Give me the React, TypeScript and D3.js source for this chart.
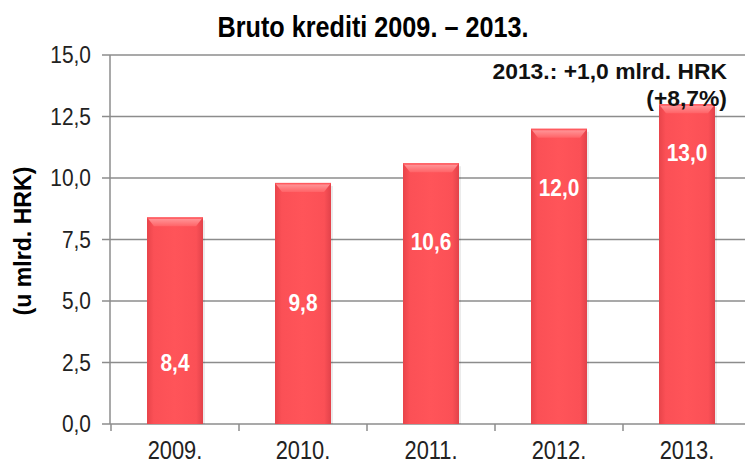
import React from "react";
import * as d3 from "d3";

const categories = ["2009.", "2010.", "2011.", "2012.", "2013."];
const values = [8.4, 9.8, 10.6, 12.0, 13.0];
const valueLabels = ["8,4", "9,8", "10,6", "12,0", "13,0"];
const labelAnchors = [2.5, 4.9, 7.4, 9.6, 11.0];
const yTicks = [0, 2.5, 5, 7.5, 10, 12.5, 15];
const yTickLabels = ["0,0", "2,5", "5,0", "7,5", "10,0", "12,5", "15,0"];
const title = "Bruto krediti 2009. – 2013.";
const yTitle = "(u mlrd. HRK)";
const note1 = "2013.: +1,0 mlrd. HRK";
const note2 = "(+8,7%)";

const W = 745;
const H = 463;
const FONT = "'Liberation Sans', Arial, sans-serif";

function T(props: {
  x: number;
  y: number;
  size: number;
  bold?: boolean;
  anchor?: string;
  fill?: string;
  sx?: number;
  sy?: number;
  dy?: string;
  children: React.ReactNode;
}) {
  const { x, y, size, bold, anchor = "start", fill = "#222", sx = 0.95, sy = 1.1, dy } = props;
  return (
    <text
      transform={`translate(${x},${y}) scale(${sx},${sy})`}
      fontSize={size}
      fontWeight={bold ? "bold" : "normal"}
      textAnchor={anchor}
      fill={fill}
      dy={dy}
    >
      {props.children}
    </text>
  );
}

export default function App() {
  const x = d3
    .scaleBand<string>()
    .domain(categories)
    .range([111, 751])
    .paddingInner(0.5625)
    .paddingOuter(0.28125);
  const y = d3.scaleLinear().domain([0, 15]).range([424, 55]);
  const step = x.step();
  const bw = x.bandwidth();
  const grid = "#8c8c8c";

  return (
    <svg
      width={W}
      height={H}
      style={{ position: "absolute", left: 0, top: 0, background: "#fff" }}
      fontFamily={FONT}
    >
      <defs>
        <linearGradient id="barG" x1="0" x2="1" y1="0" y2="0">
          <stop offset="0" stopColor="#e8444a" />
          <stop offset="0.12" stopColor="#fb5056" />
          <stop offset="0.5" stopColor="#ff5459" />
          <stop offset="0.88" stopColor="#fb5056" />
          <stop offset="1" stopColor="#e2424a" />
        </linearGradient>
        <linearGradient id="topG" x1="0" x2="0" y1="0" y2="1">
          <stop offset="0" stopColor="#ff9ea0" />
          <stop offset="1" stopColor="#ff6367" />
        </linearGradient>
      </defs>
      <rect x={0} y={0} width={W} height={H} fill="#fff" />

      {/* gridlines and y ticks */}
      {yTicks.map((t) => (
        <line
          key={"g" + t}
          x1={102}
          x2={W}
          y1={y(t)}
          y2={y(t)}
          stroke={grid}
          strokeWidth={1.5}
        />
      ))}
      <line x1={110} x2={110} y1={y(15)} y2={y(0)} stroke={grid} strokeWidth={1.5} />
      {d3.range(categories.length + 1).map((i) => (
        <line
          key={"xt" + i}
          x1={111 + i * step}
          x2={111 + i * step}
          y1={y(0)}
          y2={y(0) + 7}
          stroke={grid}
          strokeWidth={1.5}
        />
      ))}
      {yTicks.map((t, i) => (
        <T key={"yl" + t} x={91} y={y(t) + 8} size={22} anchor="end">
          {yTickLabels[i]}
        </T>
      ))}

      {/* bars */}
      {categories.map((c, i) => {
        const x0 = x(c)!;
        const top = y(values[i]);
        const bot = y(0);
        const bev = 9;
        return (
          <g key={"b" + c}>
            <rect x={x0 + 2} y={top + 3} width={bw} height={bot - top - 3} fill="#000" opacity={0.08} />
            <rect x={x0} y={top} width={bw} height={bot - top} fill="url(#barG)" />
            <path
              d={`M${x0},${top} L${x0 + bw},${top} L${x0 + bw - 7},${top + bev} L${x0 + 7},${top + bev} Z`}
              fill="url(#topG)"
            />
            <rect x={x0} y={top} width={bw} height={1.5} fill="#ff4a50" opacity={0.8} />
          </g>
        );
      })}

      {/* value labels */}
      {categories.map((c, i) => (
        <T
          key={"v" + c}
          x={x(c)! + bw / 2}
          y={y(labelAnchors[i]) + 8}
          size={22}
          bold
          anchor="middle"
          fill="#fff"
        >
          {valueLabels[i]}
        </T>
      ))}

      {/* x labels */}
      {categories.map((c) => (
        <T key={"x" + c} x={x(c)! + bw / 2} y={459} size={23} anchor="middle">
          {c}
        </T>
      ))}

      {/* title */}
      <T x={373} y={37} size={26} bold anchor="middle" fill="#000" sx={0.97} sy={1.12}>
        {title}
      </T>

      {/* y axis title */}
      <text
        transform={`translate(31,241) rotate(-90) scale(1.05,1.08)`}
        textAnchor="middle"
        fontSize={22}
        fontWeight="bold"
        fill="#000"
      >
        {yTitle}
      </text>

      {/* annotation */}
      <T x={727} y={79} size={22} bold anchor="end" fill="#111" sx={1.04} sy={1}>
        {note1}
      </T>
      <T x={727} y={106} size={22} bold anchor="end" fill="#111" sx={1.04} sy={1}>
        {note2}
      </T>
    </svg>
  );
}
